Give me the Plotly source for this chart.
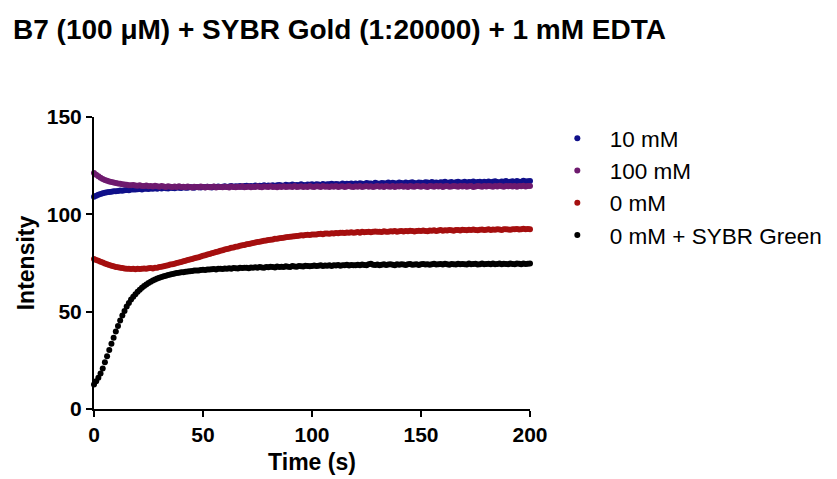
import plotly.graph_objects as go

time_s = list(range(0, 201))

mM10 = [
    109.0, 109.6, 110.1, 110.5, 110.8, 111.1, 111.3, 111.5, 111.6, 111.8,
    111.9, 112.0, 112.2, 112.1, 112.4, 112.5, 112.4, 112.7, 112.8, 112.7,
    112.9, 113.0, 112.8, 113.1, 113.2, 113.0, 113.3, 113.2, 113.4, 113.1,
    113.5, 113.3, 113.6, 113.4, 113.3, 113.7, 113.5, 113.4, 113.8, 113.6,
    113.5, 113.9, 113.7, 113.6, 114.0, 113.8, 113.7, 114.1, 113.9, 113.8,
    114.1, 113.9, 114.2, 114.0, 113.8, 114.2, 114.1, 114.3, 114.0, 114.2,
    114.4, 114.1, 114.3, 114.5, 114.2, 114.4, 114.3, 114.6, 114.2, 114.5,
    114.7, 114.4, 114.6, 114.3, 114.8, 114.5, 114.7, 114.6, 114.9, 114.5,
    114.8, 114.7, 115.0, 114.6, 114.9, 115.1, 114.8, 114.7, 115.2, 114.9,
    115.0, 115.3, 114.9, 115.1, 115.0, 115.4, 115.1, 114.9, 115.3, 115.2,
    115.4, 115.1, 115.5, 115.3, 115.0, 115.6, 115.2, 115.5, 115.4, 115.7,
    115.3, 115.6, 115.5, 115.2, 115.8, 115.4, 115.7, 115.6, 115.9, 115.5,
    115.8, 115.6, 116.0, 115.7, 115.5, 116.1, 115.8, 115.9, 115.6, 116.2,
    115.9, 115.7, 116.1, 116.0, 115.8, 116.3, 115.9, 116.2, 116.0, 115.8,
    116.3, 116.1, 115.9, 116.4, 116.0, 116.2, 116.5, 116.1, 115.9, 116.4,
    116.2, 116.0, 116.5, 116.3, 116.1, 116.6, 116.2, 116.4, 116.0, 116.5,
    116.3, 116.7, 116.2, 116.4, 116.6, 116.1, 116.5, 116.8, 116.3, 116.4,
    116.7, 116.2, 116.6, 116.5, 116.9, 116.3, 116.6, 116.8, 116.4, 116.7,
    116.5, 116.9, 116.3, 116.7, 117.0, 116.6, 116.4, 116.9, 116.7, 117.1,
    116.5, 116.8, 117.0, 116.6, 117.1, 116.8, 116.7, 117.2, 116.9, 117.0,
    117.1,
]

mM100 = [
    121.2, 120.3, 119.5, 118.8, 118.2, 117.7, 117.3, 116.9, 116.6, 116.3,
    116.1, 115.8, 115.7, 115.5, 115.3, 115.2, 115.0, 114.9, 115.1, 114.8,
    114.7, 114.9, 114.6, 114.5, 114.8, 114.4, 114.6, 114.3, 114.7, 114.4,
    114.2, 114.5, 114.3, 114.1, 114.4, 114.2, 114.0, 114.3, 114.1, 114.4,
    114.0, 114.2, 113.9, 114.3, 114.1, 113.8, 114.2, 114.0, 113.9, 114.3,
    114.1, 113.8, 114.2, 113.9, 114.0, 114.3, 113.8, 114.1, 114.0, 113.9,
    114.2, 114.0, 113.8, 114.3, 114.1, 113.9, 114.2, 114.0, 114.4, 113.9,
    114.1, 114.3, 113.9, 114.2, 114.0, 114.4, 114.1, 113.9, 114.3, 114.2,
    114.0, 114.4, 114.1, 114.2, 113.9, 114.3, 114.1, 114.4, 114.0, 114.2,
    114.3, 114.1, 114.5, 114.0, 114.2, 114.4, 114.1, 114.3, 114.0, 114.5,
    114.2, 114.1, 114.4, 114.3, 114.0, 114.5, 114.2, 114.3, 114.1, 114.4,
    114.2, 114.5, 114.1, 114.3, 114.4, 114.0, 114.3, 114.5, 114.2, 114.1,
    114.4, 114.2, 114.6, 114.1, 114.3, 114.5, 114.2, 114.4, 114.0, 114.3,
    114.5, 114.2, 114.4, 114.1, 114.6, 114.3, 114.2, 114.5, 114.1, 114.4,
    114.3, 114.6, 114.2, 114.4, 114.1, 114.5, 114.3, 114.2, 114.6, 114.4,
    114.2, 114.5, 114.3, 114.1, 114.6, 114.4, 114.2, 114.5, 114.3, 114.6,
    114.1, 114.4, 114.5, 114.2, 114.3, 114.6, 114.4, 114.2, 114.5, 114.3,
    114.6, 114.2, 114.4, 114.5, 114.1, 114.3, 114.6, 114.4, 114.2, 114.5,
    114.3, 114.6, 114.4, 114.2, 114.5, 114.3, 114.7, 114.4, 114.2, 114.5,
    114.4, 114.6, 114.3, 114.5, 114.2, 114.6, 114.4, 114.7, 114.3, 114.5,
    114.6,
]

mM0 = [
    77.0, 76.6, 76.1, 75.7, 75.2, 74.8, 74.4, 74.0, 73.6, 73.3,
    73.0, 72.8, 72.6, 72.4, 72.2, 72.1, 72.0, 71.9, 72.1, 71.8,
    72.0, 71.9, 72.1, 72.2, 72.0, 72.3, 72.4, 72.2, 72.6, 72.5,
    72.9, 73.1, 73.3, 73.6, 73.8, 74.2, 74.4, 74.6, 75.0, 75.3,
    75.5, 75.9, 76.1, 76.5, 76.8, 77.0, 77.4, 77.7, 78.0, 78.4,
    78.7, 79.0, 79.4, 79.6, 80.0, 80.3, 80.7, 80.9, 81.3, 81.6,
    81.9, 82.2, 82.4, 82.8, 83.0, 83.3, 83.5, 83.8, 84.1, 84.2,
    84.6, 84.8, 85.0, 85.3, 85.5, 85.8, 85.9, 86.2, 86.4, 86.5,
    86.8, 87.0, 87.1, 87.4, 87.5, 87.7, 87.9, 88.0, 88.2, 88.3,
    88.5, 88.6, 88.8, 88.9, 89.0, 89.2, 89.1, 89.4, 89.5, 89.4,
    89.6, 89.7, 89.6, 89.9, 90.0, 89.8, 90.1, 90.2, 90.0, 90.3,
    90.2, 90.4, 90.3, 90.5, 90.6, 90.4, 90.7, 90.5, 90.8, 90.6,
    90.7, 90.9, 90.6, 91.0, 90.8, 90.9, 91.1, 90.8, 91.0, 91.2,
    91.0, 91.1, 90.9, 91.3, 91.1, 91.0, 91.3, 91.2, 91.4, 91.1,
    91.3, 91.5, 91.2, 91.4, 91.3, 91.6, 91.4, 91.2, 91.5, 91.6,
    91.4, 91.7, 91.5, 91.3, 91.7, 91.6, 91.8, 91.5, 91.7, 91.9,
    91.6, 91.8, 91.7, 92.0, 91.8, 91.6, 91.9, 92.0, 91.7, 92.1,
    91.9, 91.8, 92.1, 91.9, 92.2, 92.0, 91.8, 92.1, 92.2, 91.9,
    92.1, 92.3, 92.0, 92.2, 92.1, 92.4, 92.2, 92.0, 92.3, 92.4,
    92.2, 92.1, 92.4, 92.3, 92.5, 92.2, 92.4, 92.6, 92.3, 92.5,
    92.4,
]

mM0_sybr_green = [
    12.6, 14.2, 16.1, 18.2, 20.8, 24.0, 27.1, 30.3, 33.5, 36.6,
    39.8, 42.7, 45.5, 48.0, 50.4, 52.6, 54.5, 56.2, 57.7, 59.0,
    60.2, 61.3, 62.3, 63.2, 64.0, 64.7, 65.4, 66.0, 66.5, 67.0,
    67.4, 67.8, 68.2, 68.5, 68.8, 69.1, 69.3, 69.6, 69.8, 70.0,
    70.2, 70.3, 70.5, 70.6, 70.8, 70.9, 71.1, 71.2, 71.1, 71.4,
    71.5, 71.4, 71.7, 71.6, 71.8, 71.9, 71.7, 72.0, 72.1, 71.9,
    72.2, 72.1, 72.3, 72.0, 72.4, 72.3, 72.2, 72.5, 72.4, 72.6,
    72.5, 72.3, 72.7, 72.6, 72.8, 72.5, 72.9, 72.7, 72.6, 73.0,
    72.8, 73.1, 72.9, 72.7, 73.2, 73.0, 73.1, 72.9, 73.3, 73.1,
    73.0, 73.4, 73.2, 73.1, 73.5, 73.3, 73.2, 73.6, 73.4, 73.3,
    73.5, 73.7, 73.4, 73.6, 73.8, 73.5, 73.7, 73.6, 73.9, 73.5,
    73.8, 73.7, 74.0, 73.6, 73.9, 73.8, 74.1, 73.7, 74.0, 73.9,
    73.8, 74.1, 73.9, 74.2, 74.0, 73.8, 74.3, 74.6, 74.1, 74.0,
    74.2, 73.9, 74.1, 74.3, 74.0, 74.2, 74.4, 74.1, 73.9, 74.3,
    74.1, 74.4, 74.2, 74.0, 74.3, 74.5, 74.1, 74.2, 74.4, 74.0,
    74.3, 74.5, 74.2, 74.4, 74.1, 74.3, 74.6, 74.2, 74.4, 74.5,
    74.2, 74.6, 74.3, 74.1, 74.5, 74.4, 74.2, 74.6, 74.3, 74.5,
    74.4, 74.2, 74.7, 74.3, 74.5, 74.6, 74.2, 74.4, 74.7, 74.3,
    74.5, 74.6, 74.3, 74.7, 74.4, 74.5, 74.8, 74.3, 74.6, 74.5,
    74.4, 74.7, 74.5, 74.3, 74.8, 74.6, 74.4, 74.7, 74.5, 74.6,
    74.7,
]

series_names = ["10 mM", "100 mM", "0 mM", "0 mM + SYBR Green"]
series_values = [mM10, mM100, mM0, mM0_sybr_green]
series_colors = ["#10108A", "#6E1A6E", "#A50F0F", "#000000"]

FONT = "Arial, Liberation Sans, sans-serif"

fig = go.Figure()
for name, vals, col in zip(series_names, series_values, series_colors):
    fig.add_trace(go.Scatter(
        x=time_s, y=vals, name=name, mode="markers",
        marker=dict(size=6, color=col, line=dict(width=0)),
        cliponaxis=False,
    ))

axis_common = dict(
    showline=True, linecolor="black", linewidth=2,
    ticks="outside", ticklen=6, tickwidth=2, tickcolor="black",
    showgrid=False, zeroline=False, mirror=False,
    tickfont=dict(family=FONT, size=21, color="black", weight="bold"),
)

fig.update_layout(
    width=837, height=479,
    margin=dict(l=94, r=307, t=117, b=70, autoexpand=False),
    paper_bgcolor="white", plot_bgcolor="white",
    title=dict(
        text="<b>B7 (100 μM) + SYBR Gold (1:20000) + 1 mM EDTA</b>",
        x=13 / 837, xref="container", xanchor="left",
        y=1 - 29 / 479, yref="container", yanchor="middle",
        font=dict(family=FONT, size=28, color="black"),
    ),
    xaxis=dict(
        range=[0, 200], tickvals=[0, 50, 100, 150, 200],
        title=dict(text="<b>Time (s)</b>", standoff=9,
                   font=dict(family=FONT, size=23, color="black")),
        **axis_common,
    ),
    yaxis=dict(
        range=[0, 150], tickvals=[0, 50, 100, 150],
        title=dict(text="<b>Intensity</b>", standoff=6,
                   font=dict(family=FONT, size=23, color="black")),
        **axis_common,
    ),
    legend=dict(
        x=1.034, xanchor="left", y=1.0, yanchor="top",
        font=dict(family=FONT, size=22.5, color="black"),
        itemwidth=55, itemsizing="trace",
        bgcolor="rgba(0,0,0,0)",
    ),
    showlegend=True,
)

fig.write_html("out.html")
